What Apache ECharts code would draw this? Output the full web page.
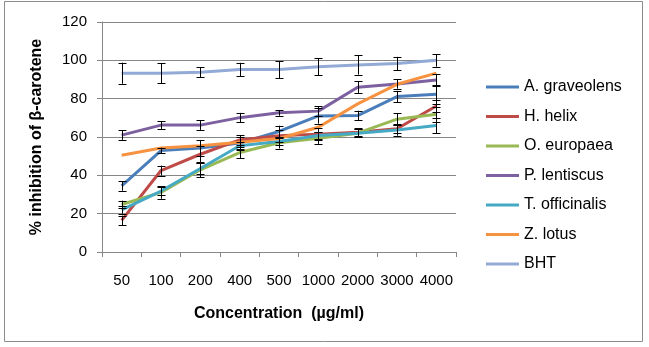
<!DOCTYPE html>
<html>
<head>
<meta charset="utf-8">
<script src="https://cdn.jsdelivr.net/npm/echarts@6/dist/echarts.min.js"></script>
<style>
  html, body { margin: 0; padding: 0; background: #fff; }
  #chart { width: 649px; height: 347px; }
</style>
</head>
<body>
<div id="chart"></div>
<script>
// Concentrations on the category axis
const concentrations = ['50', '100', '200', '400', '500', '1000', '2000', '3000', '4000'];
const yTicks = { min: 0, max: 120, interval: 20 };

// Mean % inhibition per extract
const seriesNames = ['A. graveolens', 'H. helix', 'O. europaea', 'P. lentiscus', 'T. officinalis', 'Z. lotus', 'BHT'];
const graveolens = [34.5, 52.9, 54.3, 56.8, 62.9, 71.0, 71.2, 81.1, 82.3];
const helix      = [16.5, 42.5, 51.0, 58.5, 60.6, 61.5, 62.5, 64.3, 76.2];
const europaea   = [24.8, 31.1, 42.9, 51.9, 57.0, 59.4, 62.0, 69.3, 71.9];
const lentiscus  = [61.0, 66.2, 66.2, 70.1, 72.6, 73.5, 86.0, 87.7, 89.8];
const officinalis= [22.0, 31.8, 43.6, 55.4, 57.6, 60.8, 62.0, 63.7, 66.0];
const lotus      = [50.5, 54.3, 55.4, 57.3, 59.2, 65.1, 77.3, 87.5, 93.3];
const bht        = [93.3, 93.3, 93.8, 95.2, 95.2, 96.6, 97.6, 98.3, 100.0];

// Standard deviations (± error bar half-lengths)
const graveolensErr = [2.5, 1.5, 4.0, 3.0, 3.0, 4.0, 2.5, 3.0, 5.0];
const helixErr      = [2.5, 2.6, 4.5, 2.5, 3.0, 3.0, 2.0, 2.0, 3.0];
const europaeaErr   = [2.0, 3.3, 4.0, 3.0, 3.0, 3.0, 2.0, 3.0, 4.0];
const lentiscusErr  = [2.5, 2.0, 2.5, 2.5, 1.5, 2.5, 3.0, 2.5, 3.0];
const officinalisErr= [2.0, 2.0, 3.0, 2.0, 2.0, 2.0, 2.0, 3.0, 4.0];
const lotusErr      = [0, 0, 0, 0, 0, 0, 0, 0, 0];
const bhtErr        = [5.5, 5.3, 2.5, 3.5, 4.4, 4.5, 5.0, 3.5, 3.3];

const colors = ['#4A7EBB', '#BE4B48', '#98B954', '#7D60A0', '#46AAC5', '#F69240', '#93AAD6'];
const values = [graveolens, helix, europaea, lentiscus, officinalis, lotus, bht];
const errors = [graveolensErr, helixErr, europaeaErr, lentiscusErr, officinalisErr, lotusErr, bhtErr];

const FONT = 'Liberation Sans, Arial, sans-serif';

const lineSeries = seriesNames.map((name, i) => ({
  name: name,
  type: 'line',
  data: values[i],
  symbol: 'none',
  color: colors[i],
  lineStyle: { width: 3, color: colors[i] },
  z: 2
}));

const errorSeries = seriesNames.map((name, i) => ({
  name: name + ' error',
  type: 'custom',
  z: 3,
  silent: true,
  data: values[i].map((v, k) => [k, v - errors[i][k], v + errors[i][k]]),
  renderItem: function (params, api) {
    const lo = api.value(1), hi = api.value(2);
    if (hi - lo <= 0) return null;
    const p1 = api.coord([api.value(0), lo]);
    const p2 = api.coord([api.value(0), hi]);
    const x = Math.round(p1[0]) + 0.5;
    const cap = 4;
    const style = { stroke: '#000', lineWidth: 1 };
    return {
      type: 'group',
      children: [
        { type: 'line', shape: { x1: x, y1: p1[1], x2: x, y2: p2[1] }, style: style },
        { type: 'line', shape: { x1: x - cap, y1: Math.round(p1[1]) + 0.5, x2: x + cap, y2: Math.round(p1[1]) + 0.5 }, style: style },
        { type: 'line', shape: { x1: x - cap, y1: Math.round(p2[1]) + 0.5, x2: x + cap, y2: Math.round(p2[1]) + 0.5 }, style: style }
      ]
    };
  }
}));

const chart = echarts.init(document.getElementById('chart'), null, { renderer: 'canvas' });
chart.setOption({
  animation: false,
  backgroundColor: '#fff',
  textStyle: { fontFamily: FONT },
  graphic: [{
    type: 'rect',
    shape: { x: 4.5, y: 1.5, width: 638, height: 340 },
    style: { fill: 'none', stroke: '#8c8c8c', lineWidth: 1 },
    silent: true
  }],
  grid: { left: 102, right: 193, top: 22, bottom: 95, containLabel: false },
  legend: {
    orient: 'vertical',
    left: 481,
    top: 74,
    itemWidth: 33,
    itemHeight: 3,
    itemGap: 13.5,
    icon: 'rect',
    data: seriesNames,
    textStyle: { fontFamily: FONT, fontSize: 16, color: '#000', lineHeight: 16 }
  },
  xAxis: {
    type: 'category',
    data: concentrations,
    boundaryGap: true,
    name: 'Concentration  (µg/ml)',
    nameLocation: 'middle',
    nameGap: 54,
    nameTextStyle: { fontFamily: FONT, fontSize: 16, fontWeight: 'bold', color: '#000' },
    axisLine: { lineStyle: { color: '#868686', width: 1 } },
    axisTick: { show: true, length: 5, inside: false, lineStyle: { color: '#868686' } },
    axisLabel: { fontFamily: FONT, fontSize: 15, color: '#000', margin: 21, interval: 0, hideOverlap: false }
  },
  yAxis: {
    type: 'value',
    min: yTicks.min,
    max: yTicks.max,
    interval: yTicks.interval,
    name: '% inhibition of β-carotene',
    nameLocation: 'middle',
    nameGap: 57,
    nameTextStyle: { fontFamily: FONT, fontSize: 16, fontWeight: 'bold', color: '#000' },
    axisLine: { show: true, lineStyle: { color: '#868686', width: 1 } },
    axisTick: { show: true, length: 5, lineStyle: { color: '#868686' } },
    axisLabel: { fontFamily: FONT, fontSize: 15, color: '#000', margin: 15 },
    splitLine: { show: true, lineStyle: { color: '#868686', width: 1 } }
  },
  series: lineSeries.concat(errorSeries)
});
</script>
</body>
</html>
